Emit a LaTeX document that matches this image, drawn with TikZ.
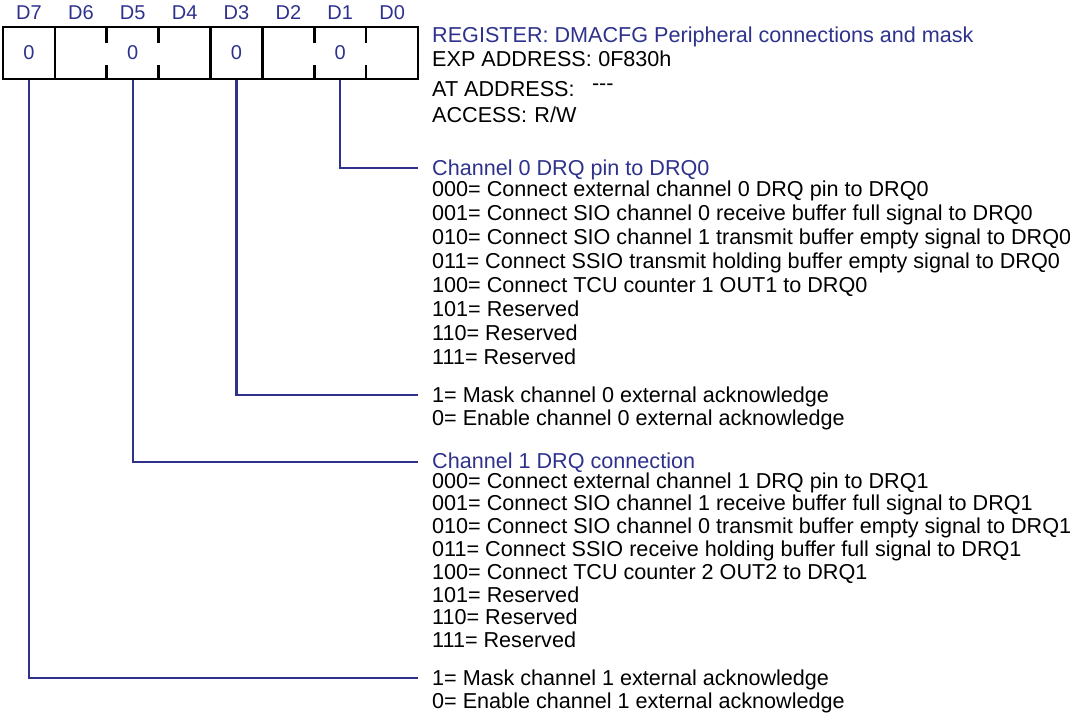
\documentclass[tikz,border=0pt]{standalone}
\usepackage{fontspec}
\setmainfont{Liberation Sans}
\definecolor{regblue}{RGB}{46,50,140}
\begin{document}
\begin{tikzpicture}[x=1pt,y=-1pt,
  txt/.style={anchor=base west, inner sep=0pt, font=\fontsize{21.6}{23}\selectfont},
  ttl/.style={txt, text=regblue},
  bitlbl/.style={inner sep=0pt, text=regblue, font=\fontsize{20}{20}\selectfont},
  bitval/.style={inner sep=0pt, text=regblue, font=\fontsize{20}{20}\selectfont},
  frame/.style={draw=black, line width=2.6pt},
  wire/.style={draw=regblue, line width=2.4pt}]
\useasboundingbox (0,0) rectangle (1070,713);

% register frame, eight cells of 51.875pt
\node[frame, minimum width=415pt, minimum height=52pt, inner sep=0pt] (reg) at (210.5,53) {};
\foreach \i in {1,4,5} \draw[frame] ({3+51.875*\i},27) -- ({3+51.875*\i},79);
\foreach \i in {2,3,6,7} {
  \draw[frame] ({3+51.875*\i},27) -- ({3+51.875*\i},43);
  \draw[frame] ({3+51.875*\i},65) -- ({3+51.875*\i},79);
}

% bit numbers
\foreach \i/\b in {0/7,1/6,2/5,3/4,4/3,5/2,6/1,7/0}
  \node[bitlbl] (d\b) at ({29+51.875*\i},13) {D\b};

% field values
\node[bitval] (v7) at (29,53) {0};
\node[bitval] (v5) at (132.75,53) {0};
\node[bitval] (v3) at (236.5,53) {0};
\node[bitval] (v1) at (340.25,53) {0};

% header
\node[ttl] (hreg) at (432,42) {REGISTER: DMACFG Peripheral connections and mask};
\node[txt] (hexp) at (432,66) {EXP ADDRESS:};
\node[txt] (hexpv) at ([xshift=6pt]hexp.base east) {0F830h};
\node[txt] (hat) at (432,96) {AT ADDRESS:};
\node[txt] (hatv) at ([xshift=17pt,yshift=6pt]hat.base east) {-{}-{}-};
\node[txt] (hacc) at (432,122) {ACCESS:};
\node[txt] (haccv) at ([xshift=7pt]hacc.base east) {R/W};

% D2-D0
\node[ttl] (c0) at (432,175) {Channel 0 DRQ pin to DRQ0};
\node[txt] (c0a) at (432,196.0) {000= Connect external channel 0 DRQ pin to DRQ0};
\node[txt] (c0b) at (432,220.1) {001= Connect SIO channel 0 receive buffer full signal to DRQ0};
\node[txt] (c0c) at (432,244.2) {010= Connect SIO channel 1 transmit buffer empty signal to DRQ0};
\node[txt] (c0d) at (432,268.3) {011= Connect SSIO transmit holding buffer empty signal to DRQ0};
\node[txt] (c0e) at (432,292.4) {100= Connect TCU counter 1 OUT1 to DRQ0};
\node[txt] (c0f) at (432,316.5) {101= Reserved};
\node[txt] (c0g) at (432,340.6) {110= Reserved};
\node[txt] (c0h) at (432,364.7) {111= Reserved};

% D3
\node[txt] (m0a) at (432,402) {1= Mask channel 0 external acknowledge};
\node[txt] (m0b) at (432,425) {0= Enable channel 0 external acknowledge};

% D6-D4
\node[ttl] (c1) at (432,468) {Channel 1 DRQ connection};
\node[txt] (c1a) at (432,488.0) {000= Connect external channel 1 DRQ pin to DRQ1};
\node[txt] (c1b) at (432,510.8) {001= Connect SIO channel 1 receive buffer full signal to DRQ1};
\node[txt] (c1c) at (432,533.6) {010= Connect SIO channel 0 transmit buffer empty signal to DRQ1};
\node[txt] (c1d) at (432,556.4) {011= Connect SSIO receive holding buffer full signal to DRQ1};
\node[txt] (c1e) at (432,579.2) {100= Connect TCU counter 2 OUT2 to DRQ1};
\node[txt] (c1f) at (432,602.0) {101= Reserved};
\node[txt] (c1g) at (432,624.8) {110= Reserved};
\node[txt] (c1h) at (432,647.6) {111= Reserved};

% D7
\node[txt] (m1a) at (432,685) {1= Mask channel 1 external acknowledge};
\node[txt] (m1b) at (432,708) {0= Enable channel 1 external acknowledge};

% leader lines from the fields to their descriptions
\coordinate (e1) at (418,168);
\coordinate (e3) at (418,395);
\coordinate (e5) at (418,462);
\coordinate (e7) at (418,678);
\draw[wire] (reg.south -| v1) |- (e1);
\draw[wire] (reg.south -| v3) |- (e3);
\draw[wire] (reg.south -| v5) |- (e5);
\draw[wire] (reg.south -| v7) |- (e7);
\end{tikzpicture}
\end{document}
